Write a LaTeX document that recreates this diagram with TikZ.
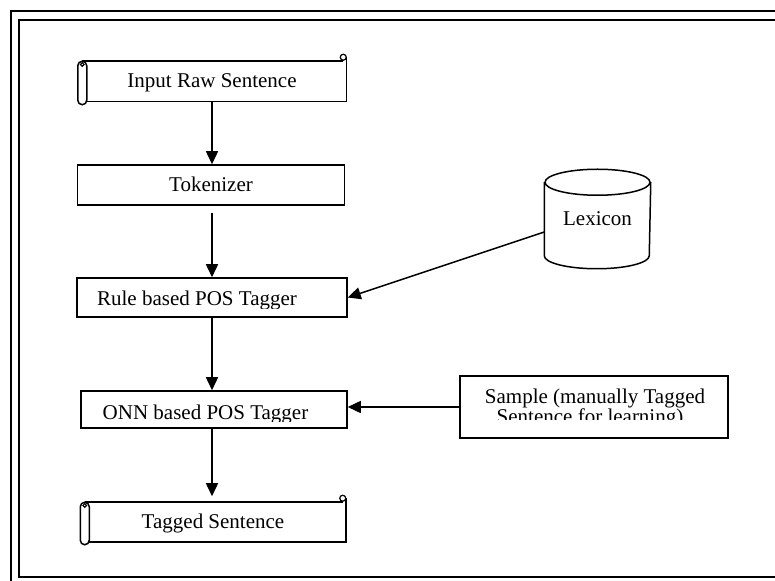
\documentclass[tikz,border=0pt]{standalone}
\usepackage{fontspec}
\setmainfont{Liberation Serif}
\usetikzlibrary{arrows.meta, positioning, calc}

\tikzset{
  tbox/.style={draw, line width=0.75pt, inner sep=0pt, text height=6.5pt, text depth=0pt, font=\fontsize{10.5}{12}\selectfont},
  lbl/.style={inner sep=0pt, font=\fontsize{10.5}{12}\selectfont},
  flow/.style={line width=0.75pt, -{Triangle[length=6.5pt, width=6pt]}},
  frame/.style={line width=0.8pt},
}

% scroll outline drawn round a named node
\newcommand{\scrollframe}[1]{%
  \draw[line width=0.75pt, rounded corners=2.25pt] (#1.north west) rectangle ([xshift=4.5pt, yshift=-1.5pt]#1.south west);
  \draw[line width=0.6pt] ([xshift=2.25pt, yshift=-1.6pt]#1.north west) circle (0.9pt);
  \draw[line width=0.75pt] ([xshift=2.25pt]#1.north west) -- ([xshift=-1.5pt]#1.north east);
  \draw[line width=0.6pt] ([xshift=-1.5pt, yshift=2pt]#1.north east) circle (1.5pt);
  \draw[line width=0.75pt] ([yshift=2pt]#1.north east) -- (#1.south east) -- ([xshift=4.5pt]#1.south west);
}

\begin{document}
\begin{tikzpicture}[x=0.5pt, y=-0.5pt]
  \useasboundingbox (0,0) rectangle (775,581);
  \clip (0,0) rectangle (775,581);

  % Page frames
  \draw[frame] (11,600) -- (11,11) -- (800,11);
  \draw[frame] (800,577) -- (19,577) -- (19,20) -- (800,20);

  % Main column
  \node[tbox, draw=none, minimum width=133.5pt, minimum height=19.5pt] (input) at (212,81.5) {Input Raw Sentence};
  \scrollframe{input}
  \node[tbox, minimum width=133.5pt, minimum height=20pt] (tokenizer) at (211,185) {Tokenizer};
  \node[tbox, minimum width=135pt, minimum height=19.5pt] (rule) at (212,297.5) {};
  \node[tbox, minimum width=133pt, minimum height=18.5pt] (onn) at (214,409.5) {};
  \node[tbox, draw=none, minimum width=132pt, minimum height=19pt] (tagged) at (213,522) {Tagged Sentence};
  \scrollframe{tagged}

  % Clipped box texts
  \begin{scope}
    \clip (rule.north west) rectangle ([yshift=4.5pt]rule.south east);
    \node[lbl, anchor=base] (ruletext) at (197,306) {Rule based POS Tagger};
  \end{scope}
  \begin{scope}
    \clip (onn.north west) rectangle ([yshift=3.5pt]onn.south east);
    \node[lbl, anchor=base] (onntext) at (205.5,420) {ONN based POS Tagger};
  \end{scope}

  % Lexicon store
  \node[tbox, draw=none, minimum width=52.5pt, minimum height=36pt] (lexicon) at (597.5,219) {Lexicon};
  \draw[line width=0.75pt] (lexicon.north) ellipse [x radius=26.25pt, y radius=6.5pt];
  \draw[line width=0.75pt] (lexicon.north west) -- (lexicon.south west)
    arc [start angle=180, end angle=360, x radius=26.25pt, y radius=6.5pt] -- (lexicon.north east);

  % Sample box
  \node[tbox, minimum width=134pt, minimum height=31pt] (sample) at (594,407) {};
  \begin{scope}
    \clip (sample.north west) rectangle ([yshift=9.5pt]sample.south east);
    \node[lbl, anchor=base] (sampleA) at (595,404) {Sample (manually Tagged};
    \node[lbl, anchor=base] (sampleB) at (590,424) {Sentence for learning)};
  \end{scope}

  % Arrows
  \draw[flow] (input.south) -- (input.south |- tokenizer.north);
  \draw[flow, shorten <=3.5pt] (tokenizer.south -| rule.north) -- (rule.north);
  \draw[flow] (rule.south) -- (rule.south |- onn.north);
  \draw[flow, shorten >=3pt] (rule.south |- onn.south) -- (rule.south |- tagged.north);
  \draw[flow] ([yshift=-6.5pt]lexicon.west) -- (rule.east);
  \draw[flow] (sample.west) -- (sample.west -| onn.east);
\end{tikzpicture}
\end{document}
